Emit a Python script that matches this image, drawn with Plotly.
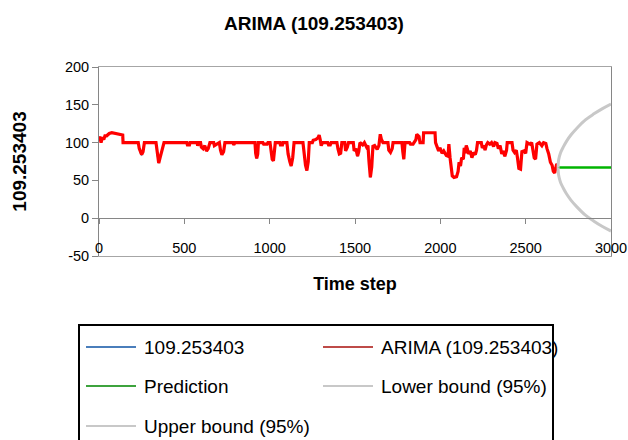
import plotly.graph_objects as go

# ---------------- data ----------------
obs_t = [0, 5, 12, 20, 28, 35, 45, 60, 75, 110, 125, 139, 141, 230, 236, 243, 250, 258, 264, 266,
         334, 340, 350, 358, 368, 375, 381, 514, 518, 530, 533, 575, 578, 585, 595, 600, 610, 620,
         630, 640, 650, 672, 676, 690, 705, 712, 720, 730, 738, 785, 790, 797, 914, 918, 924, 930,
         934, 960, 965, 985, 990, 1002, 1008, 1015, 1022, 1029, 1033, 1060, 1063, 1075, 1078, 1101,
         1108, 1118, 1126, 1135, 1143, 1195, 1202, 1210, 1218, 1226, 1232, 1250, 1255, 1270, 1282,
         1290, 1296, 1302, 1310, 1340, 1345, 1355, 1360, 1394, 1400, 1408, 1416, 1423, 1440, 1445,
         1455, 1462, 1490, 1495, 1505, 1515, 1522, 1529, 1545, 1555, 1568, 1576, 1582, 1590, 1598,
         1605, 1615, 1630, 1640, 1648, 1655, 1664, 1693, 1698, 1708, 1718, 1723, 1775, 1780, 1786,
         1793, 1820, 1825, 1840, 1857, 1862, 1875, 1881, 1899, 1902, 1969, 1972, 1980, 1990, 1998,
         2010, 2020, 2035, 2045, 2050, 2057, 2062, 2070, 2080, 2095, 2104, 2110, 2118, 2125, 2135,
         2140, 2145, 2152, 2158, 2165, 2175, 2185, 2195, 2205, 2212, 2218, 2240, 2246, 2255, 2262,
         2270, 2278, 2290, 2300, 2312, 2320, 2332, 2340, 2350, 2360, 2368, 2378, 2388, 2392, 2420,
         2426, 2435, 2445, 2452, 2460, 2470, 2478, 2490, 2500, 2508, 2525, 2535, 2543, 2550, 2558,
         2566, 2580, 2595, 2605, 2618, 2625, 2635, 2645, 2655, 2662, 2670, 2676, 2682, 2688]
obs_v = [103, 108, 100, 107, 104, 109, 109, 112, 113, 111, 111, 110, 100, 100, 92, 86, 84, 88, 100, 100,
         100, 86, 73, 80, 88, 95, 100, 100, 97, 97, 100, 100, 96, 100, 100, 94, 92, 96,
         89, 92, 100, 100, 96, 98, 100, 90, 84, 88, 100, 100, 97, 100, 100, 86, 79, 85,
         100, 100, 98, 98, 100, 100, 88, 78, 76, 90, 100, 100, 97, 97, 100, 100,
         85, 75, 69, 80, 100, 100, 85, 70, 63, 75, 100, 100, 103, 104, 106,
         110, 104, 96, 100, 100, 97, 97, 100, 100, 92, 85, 86, 100, 100, 89,
         94, 100, 100, 89, 92, 82, 88, 100, 97, 100, 94, 96, 75, 54, 68,
         95, 96, 91, 96, 111, 104, 100, 100, 90, 87, 92, 100, 100, 88, 78,
         100, 100, 98, 98, 104, 111, 108, 100, 100, 113, 113, 100, 95, 89, 93,
         86, 89, 83, 82, 98, 80, 70, 56, 54, 55, 62, 74, 69, 80, 78,
         93, 86, 96, 92, 85, 89, 80, 87, 84, 90, 100, 100, 93, 96, 90,
         97, 100, 98, 100, 95, 100, 99, 92, 96, 85, 89, 82, 90, 100, 100,
         90, 87, 90, 80, 66, 65, 88, 89, 86, 100, 98, 100, 90, 80, 78,
         98, 100, 96, 100, 99, 92, 85, 74, 70, 62, 60, 66, 72, 68]

# ARIMA fitted values (overlap the observed series)
fit_t = obs_t
fit_v = obs_v

pred_t = [2690, 3000]
pred_v = [67, 67]

bound_t = [2690, 2692, 2697, 2705, 2720, 2740, 2765, 2800, 2850, 2900, 2950, 3000]
lower_v = [67, 59, 53, 47, 40, 32, 24, 15, 4, -4, -11, -17]
upper_v = [67, 75, 81, 87, 94, 102, 110, 119, 130, 138, 145, 151]

series_names = ["109.253403", "ARIMA (109.253403)", "Prediction",
                "Lower bound (95%)", "Upper bound (95%)"]
legend_colors = ["#4A7EBB", "#BE4B48", "#3DA33D", "#C8C8C8", "#C8C8C8"]

y_tick_vals = [-50, 0, 50, 100, 150, 200]
y_tick_text = ["-50", "0", "50", "100", "150", "200"]
x_tick_vals = [0, 500, 1000, 1500, 2000, 2500, 3000]
x_tick_text = ["0", "500", "1000", "1500", "2000", "2500", "3000"]

title_text = "ARIMA (109.253403)"
x_title = "Time step"
y_title = "109.253403"

# ---------------- figure ----------------
W, H = 628, 440
L, R, T, B = 99, 17, 67, 184
PW, PH = W - L - R, H - T - B
FONT = "Liberation Sans"


def px_x(p):
    return (p - L) / PW


def px_y(p):
    return (H - B - p) / PH


fig = go.Figure()
fig.add_trace(go.Scatter(x=obs_t, y=obs_v, mode="lines", name=series_names[0],
                         line=dict(color=legend_colors[0], width=1.5), showlegend=False))
fig.add_trace(go.Scatter(x=fit_t, y=fit_v, mode="lines", name=series_names[1],
                         line=dict(color="#FF0000", width=3.2), showlegend=False))
fig.add_trace(go.Scatter(x=pred_t, y=pred_v, mode="lines", name=series_names[2],
                         line=dict(color="#00B400", width=2.5), showlegend=False))
fig.add_trace(go.Scatter(x=bound_t, y=lower_v, mode="lines", name=series_names[3],
                         line=dict(color="#C8C8C8", width=3, shape="spline"), showlegend=False))
fig.add_trace(go.Scatter(x=bound_t, y=upper_v, mode="lines", name=series_names[4],
                         line=dict(color="#C8C8C8", width=3, shape="spline"), showlegend=False))
# dummy trace to activate xaxis2 (axis line through y = 0)
fig.add_trace(go.Scatter(x=[None], y=[None], xaxis="x2", showlegend=False, hoverinfo="skip"))

axis_col = "#868686"
fig.update_layout(
    template="none",
    width=W, height=H,
    margin=dict(l=L, r=R, t=T, b=B, pad=0, autoexpand=False),
    paper_bgcolor="white", plot_bgcolor="white",
    font=dict(family=FONT, color="black"),
    title=dict(text="<b>" + title_text + "</b>", x=0.5, xanchor="center",
               y=1 - 23 / H, yanchor="middle", yref="container",
               font=dict(size=19, family=FONT, color="black")),
    showlegend=False,
    xaxis=dict(range=[0, 3000], tickmode="array", tickvals=x_tick_vals, ticktext=x_tick_text,
               showgrid=False, zeroline=False, automargin=False,
               showline=True, linecolor="#A6A6A6", linewidth=1, mirror=True,
               ticks="", ticklabelposition="inside", ticklabeloverflow="allow",
               tickfont=dict(size=14.5, family=FONT, color="black"),
               title=dict(text="<b>" + x_title + "</b>", standoff=22,
                          font=dict(size=18, family=FONT, color="black"))),
    xaxis2=dict(range=[0, 3000], tickmode="array", tickvals=x_tick_vals,
                overlaying="x", anchor="free",
                position=0.2, side="bottom", showgrid=False, zeroline=False,
                automargin=False,
                showline=True, linecolor=axis_col, linewidth=1, ticks="outside",
                ticklen=5, tickcolor=axis_col, showticklabels=False),
    yaxis=dict(range=[-50, 200], tickmode="array", tickvals=y_tick_vals, ticktext=y_tick_text,
               showgrid=False, zeroline=False, automargin=False,
               showline=True, linecolor=axis_col, linewidth=1, mirror=True,
               ticks="outside", ticklen=6, tickcolor=axis_col,
               tickfont=dict(size=14.5, family=FONT, color="black"),
               title=dict(text="<b>" + y_title + "</b>", standoff=33,
                          font=dict(size=19, family=FONT, color="black"))),
)

# ---------------- legend box (manual, to match layout) ----------------
fig.add_shape(type="rect", xref="paper", yref="paper",
              x0=px_x(79), x1=px_x(553), y0=px_y(325), y1=px_y(450),
              line=dict(color="black", width=2), fillcolor="rgba(0,0,0,0)", layer="above")
rows = [347, 386, 426]
cols = [(86, 136, 142), (323, 373, 379)]
for i, (name, col) in enumerate(zip(series_names, legend_colors)):
    r, c = divmod(i, 2)
    y = rows[r]
    x0, x1, xt = cols[c]
    fig.add_shape(type="line", xref="paper", yref="paper",
                  x0=px_x(x0), x1=px_x(x1), y0=px_y(y), y1=px_y(y),
                  line=dict(color=col, width=2))
    fig.add_annotation(text=name, xref="paper", yref="paper", x=px_x(xt), y=px_y(y),
                       xanchor="left", yanchor="middle", showarrow=False,
                       font=dict(size=19, family=FONT, color="black"))

fig.write_html("out.html", config={"displayModeBar": False},
               post_script="document.body.style.margin='0';document.body.style.overflow='hidden';")
